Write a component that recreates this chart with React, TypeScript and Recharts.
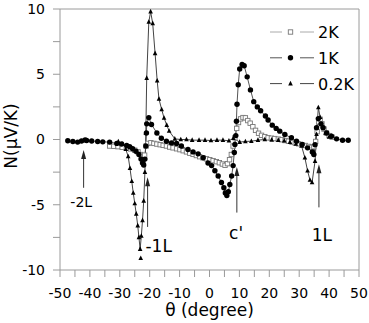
import React from 'react';
import { ComposedChart, Line, XAxis, YAxis, ReferenceLine, ReferenceDot, Legend, Label } from 'recharts';

// angle (degree) and N (uV/K) for each temperature
const theta2K = [-33.4, -32.0, -30.6, -29.2, -27.8, -26.4, -25.0, -23.9, -23.0, -22.3, -21.7, -21.2, -20.6, -19.6, -18.6, -17.6, -16.5, -15.5, -14.4, -13.3, -12.2, -11.0, -9.9, -8.8, -7.7, -6.6, -5.5, -4.4, -3.3, -2.2, -1.0, 0.1, 1.2, 2.3, 3.3, 4.3, 5.2, 6.0, 6.7, 7.3, 7.9, 8.5, 9.1, 9.7, 10.4, 11.2, 12.0, 12.8, 13.6, 14.5, 15.4, 16.4, 17.4, 18.5, 19.6, 20.7, 21.8, 23.0, 24.2, 25.3, 26.4, 27.6, 28.7, 29.8, 30.9, 32.0, 33.1, 34.1, 34.9, 35.5, 36.0, 36.5, 37.0, 37.6, 38.3, 39.1, 40.0, 41.0];
const n2K = [-0.5, -0.52, -0.55, -0.6, -0.65, -0.72, -0.82, -0.95, -1.15, -1.45, -1.2, -0.5, -0.3, -0.25, -0.3, -0.35, -0.4, -0.45, -0.5, -0.58, -0.64, -0.71, -0.78, -0.86, -0.95, -1.05, -1.14, -1.23, -1.32, -1.4, -1.48, -1.55, -1.62, -1.7, -1.78, -1.88, -1.98, -1.85, -1.55, -1.15, -0.5, 0.13, 0.85, 1.3, 1.58, 1.68, 1.66, 1.45, 1.25, 0.98, 0.7, 0.48, 0.32, 0.22, 0.13, 0.1, 0.07, 0.03, -0.02, -0.08, -0.13, -0.2, -0.27, -0.33, -0.4, -0.46, -0.53, -0.6, -0.55, -0.15, 0.6, 1.35, 1.55, 1.2, 0.8, 0.5, 0.3, 0.18];

const theta1K = [-47.4, -45.7, -44.1, -42.8, -41.6, -41.1, -39.4, -37.4, -35.7, -33.4, -31.0, -29.4, -27.7, -26.7, -25.7, -24.6, -23.6, -22.9, -22.4, -22.0, -21.6, -21.3, -21.1, -21.0, -20.3, -19.4, -17.6, -16.1, -14.4, -12.7, -11.0, -9.4, -7.2, -5.5, -3.8, -2.1, -0.5, 0.7, 1.8, 2.9, 4.0, 4.8, 5.3, 5.8, 6.3, 6.8, 7.4, 7.9, 8.3, 8.5, 8.8, 9.0, 9.2, 9.6, 10.1, 10.9, 11.6, 12.6, 13.7, 14.8, 16.0, 17.1, 18.7, 19.6, 21.0, 22.3, 23.5, 25.2, 27.4, 29.1, 31.0, 32.8, 34.4, 34.9, 35.3, 35.8, 36.4, 37.3, 38.0, 39.2, 40.8, 42.5, 44.5, 46.4];
const n1K = [-0.1, -0.15, -0.2, -0.12, -0.03, -0.08, -0.12, -0.15, -0.18, -0.2, -0.3, -0.35, -0.46, -0.56, -0.71, -0.9, -1.15, -1.5, -1.8, -1.95, -1.5, -0.5, 0.5, 1.2, 1.68, 1.15, 0.5, 0.1, -0.13, -0.26, -0.3, -0.5, -0.77, -0.95, -1.1, -1.4, -1.8, -2.0, -2.4, -2.8, -3.3, -3.7, -4.1, -4.3, -4.0, -3.45, -2.8, -2.0, -1.0, -0.38, 0.3, 1.4, 2.7, 4.2, 5.4, 5.75, 5.65, 4.8, 3.8, 2.9, 2.5, 2.2, 1.8, 1.5, 1.1, 0.85, 0.64, 0.38, 0.13, -0.13, -0.38, -0.64, -0.95, -1.15, -0.4, 0.9, 1.6, 1.2, 0.9, 0.5, 0.25, 0.05, -0.06, -0.06];

const theta02K = [-30.5, -29.0, -28.0, -27.2, -26.6, -26.0, -25.5, -25.0, -24.5, -24.0, -23.6, -23.2, -22.8, -22.4, -22.0, -21.6, -21.3, -21.0, -20.3, -19.7, -19.0, -18.2, -17.5, -16.9, -16.0, -15.2, -14.3, -13.5, -11.6, -9.6, -7.7, -5.8, -3.5, -1.5, 0.5, 2.5, 4.5, 6.5, 8.0, 10.1, 12.0, 14.0, 16.2, 18.5, 20.8, 23.0, 25.0, 26.9, 28.9, 30.8, 31.9, 32.8, 33.6, 34.3, 35.3, 35.8, 36.4, 37.0, 37.8, 38.8, 40.0];
const n02K = [-0.15, -0.35, -0.75, -1.3, -2.2, -3.2, -4.1, -4.9, -5.7, -6.6, -7.5, -8.4, -7.4, -6.2, -4.7, -2.5, 0.5, 4.7, 9.0, 9.8, 8.9, 6.6, 4.5, 3.1, 2.3, 1.65, 1.1, 0.65, 0.05, 0.0, 0.0, -0.05, -0.05, -0.05, -0.08, -0.05, -0.05, -0.1, 0.1, -0.2, -0.15, -0.13, -0.05, 0.0, -0.03, -0.05, -0.1, -0.2, -0.35, -0.5, -1.4, -2.4, -3.1, -3.3, -1.66, 0.4, 2.45, 1.7, 1.0, 0.5, 0.2];

// lone 0.2K marker below the -1L dip
const thetaStray = [-23.0];
const nStray = [-9.1];

const xTicks = [-50, -45, -40, -35, -30, -25, -20, -15, -10, -5, 0, 5, 10, 15, 20, 25, 30, 35, 40, 45, 50];
const yTicks = [-10, -7.5, -5, -2.5, 0, 2.5, 5, 7.5, 10];

const legendNames = ['2K', '1K', '0.2K'];

// arrows: x, from y (tail) to y (head); labels at x,y
const arrows = [
  { x: -42.1, y1: -3.7, y2: -0.8 },
  { x: -20.7, y1: -6.7, y2: -2.9 },
  { x: 9.15, y1: -5.6, y2: -2.1 },
  { x: 36.6, y1: -5.2, y2: -1.9 },
];
const notes = [
  { x: -42.9, y: -5.15, text: '-2L', size: 14 },
  { x: -17.0, y: -8.65, text: '-1L', size: 17 },
  { x: 8.9, y: -7.65, text: "c'", size: 17 },
  { x: 37.6, y: -7.8, text: '1L', size: 17 },
];

const zip = (xs: number[], ys: number[]) => xs.map((t, i) => ({ theta: t, n: ys[i] }));
const data2K = zip(theta2K, n2K);
const data1K = zip(theta1K, n1K);
const data02K = zip(theta02K, n02K);
const dataStray = zip(thetaStray, nStray);

const FONT = '"DejaVu Sans", sans-serif';
const FRAME = '#9a9a9a';

const square = (cx: number, cy: number, key?: any) => (
  <rect key={key} x={cx - 2.2} y={cy - 2.2} width={4.4} height={4.4} fill="#fff" stroke="#777" strokeWidth={0.9} />
);
const circle = (cx: number, cy: number, key?: any) => <circle key={key} cx={cx} cy={cy} r={2.7} fill="#000" />;
const triangle = (cx: number, cy: number, key?: any) => (
  <polygon key={key} points={`${cx},${cy - 2.8} ${cx - 2.3},${cy + 1.8} ${cx + 2.3},${cy + 1.8}`} fill="#000" />
);

const markers = [square, circle, triangle];
const lineColors = ['#aaa', '#555', '#444'];

const renderLegend = () => (
  <svg width={100} height={80}>
    {legendNames.map((name, i) => {
      const y = 12 + i * 25.8;
      return (
        <g key={name}>
          <line x1={5} x2={17} y1={y} y2={y} stroke={lineColors[i]} strokeWidth={1} />
          {markers[i](25.5, y)}
          <line x1={35} x2={49} y1={y} y2={y} stroke={lineColors[i]} strokeWidth={1} />
          <text x={53} y={y + 6} fontSize={16} fontFamily={FONT} fill="#000">{name}</text>
        </g>
      );
    })}
  </svg>
);

const arrowShape = (p: any) => {
  const { x1, y1, x2, y2 } = p;
  const top = Math.min(y1, y2);
  const bottom = Math.max(y1, y2);
  return (
    <g>
      <line x1={x1} x2={x2} y1={top + 6} y2={bottom} stroke="#333" strokeWidth={1} />
      <polygon points={`${x1},${top} ${x1 - 2.5},${top + 9} ${x1 + 2.5},${top + 9}`} fill="#222" />
    </g>
  );
};

const yLabel = () => (
  <text x={17} y={136} transform="rotate(-90 17 136)" textAnchor="middle" fontSize={17} fontFamily={FONT} fill="#000">
    N(μV/K)
  </text>
);

export default function App() {
  return (
    <div style={{ position: 'absolute', left: 0, top: 0, background: '#fff' }}>
      <ComposedChart width={369} height={323} margin={{ top: 8, right: 9, bottom: 8, left: 0 }}>
        <XAxis
          dataKey="theta"
          type="number"
          domain={[-50, 50]}
          ticks={xTicks}
          interval={0}
          allowDataOverflow
          tickFormatter={(v: number) => (v % 10 === 0 ? String(v) : '')}
          tickSize={7}
          tickMargin={11}
          height={45}
          stroke={FRAME}
          tick={{ fill: '#000', fontSize: 14, fontFamily: FONT }}
        >
          <Label value="θ (degree)" position="insideBottom" offset={-1} fontSize={17} fontFamily={FONT} fill="#000" />
        </XAxis>
        <XAxis
          xAxisId="top"
          orientation="top"
          type="number"
          domain={[-50, 50]}
          ticks={xTicks}
          interval={0}
          tick={false}
          tickSize={-7}
          height={1}
          stroke={FRAME}
        />
        <YAxis
          type="number"
          domain={[-10, 10]}
          ticks={yTicks}
          interval={0}
          allowDataOverflow
          tickFormatter={(v: number) => (v % 5 === 0 ? String(v) : '')}
          tickSize={7}
          tickMargin={8}
          width={60}
          stroke={FRAME}
          tick={{ fill: '#000', fontSize: 14, fontFamily: FONT }}
        >
          <Label content={yLabel} />
        </YAxis>
        <YAxis
          yAxisId="right"
          orientation="right"
          type="number"
          domain={[-10, 10]}
          ticks={yTicks}
          interval={0}
          tick={false}
          tickSize={-7}
          width={1}
          stroke={FRAME}
        />
        <Legend
          layout="vertical"
          align="center"
          verticalAlign="middle"
          content={renderLegend}
          wrapperStyle={{ left: 265, top: 20, width: 100, height: 80 }}
        />
        <Line data={data2K} dataKey="n" name="2K" type="linear" stroke={lineColors[0]} strokeWidth={1}
          dot={(p: any) => square(p.cx, p.cy, p.index)} activeDot={false} isAnimationActive={false} />
        <Line data={data1K} dataKey="n" name="1K" type="linear" stroke={lineColors[1]} strokeWidth={1}
          dot={(p: any) => circle(p.cx, p.cy, p.index)} activeDot={false} isAnimationActive={false} />
        <Line data={data02K} dataKey="n" name="0.2K" type="linear" stroke={lineColors[2]} strokeWidth={1}
          dot={(p: any) => triangle(p.cx, p.cy, p.index)} activeDot={false} isAnimationActive={false} />
        <Line data={dataStray} dataKey="n" name="stray" legendType="none" stroke="none"
          dot={(p: any) => triangle(p.cx, p.cy, p.index)} activeDot={false} isAnimationActive={false} />
        {arrows.map((a, i) => (
          <ReferenceLine key={`arrow-${i}`} segment={[{ x: a.x, y: a.y1 }, { x: a.x, y: a.y2 }]} shape={arrowShape} />
        ))}
        {notes.map((n, i) => (
          <ReferenceDot
            key={`note-${i}`}
            x={n.x}
            y={n.y}
            shape={(p: any) => (
              <text x={p.cx} y={p.cy} textAnchor="middle" fontSize={n.size} fontFamily={FONT} fill="#000">
                {n.text}
              </text>
            )}
          />
        ))}
      </ComposedChart>
    </div>
  );
}
